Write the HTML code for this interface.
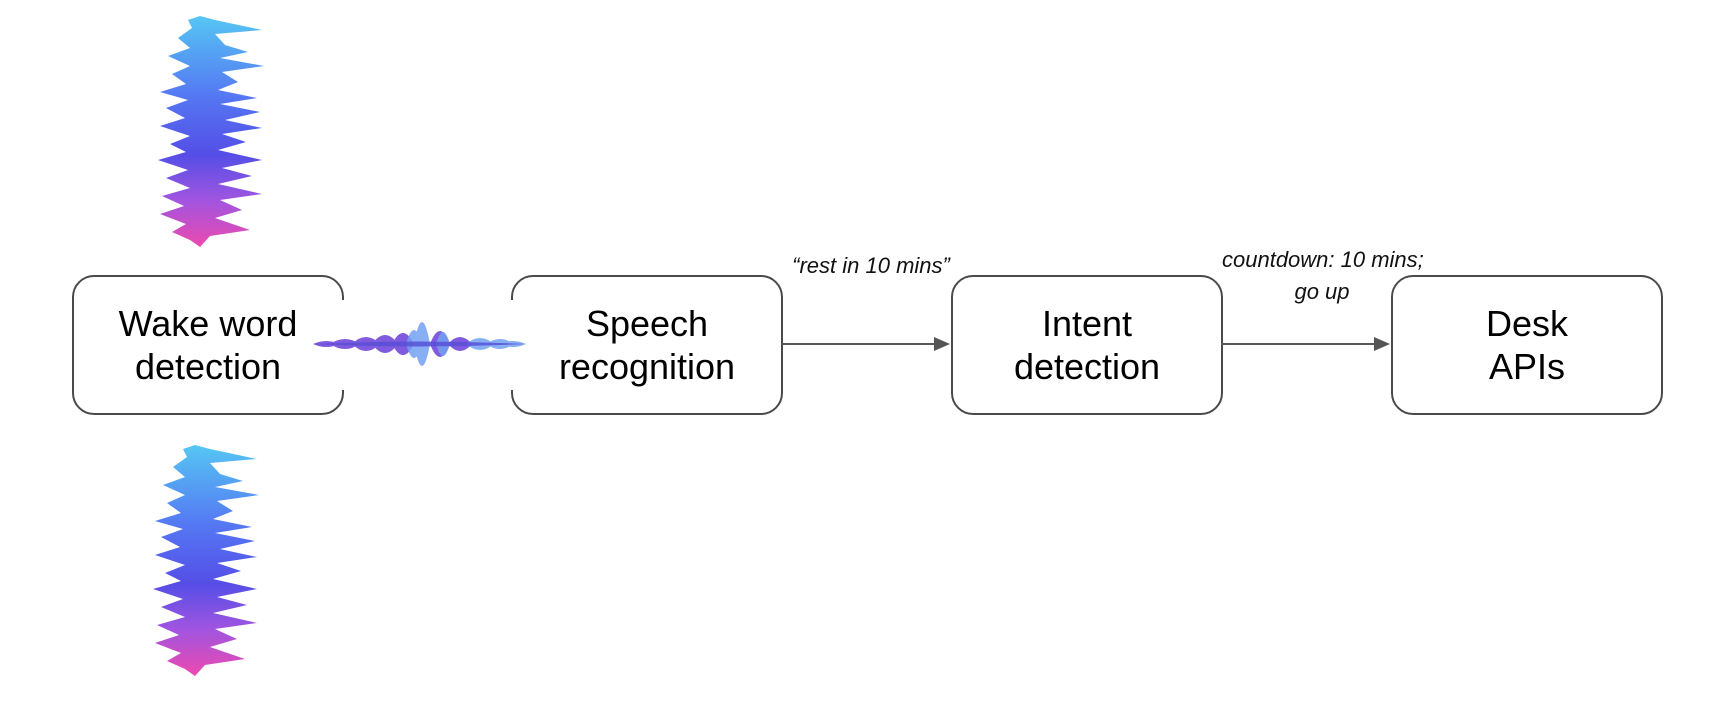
<!DOCTYPE html>
<html><head><meta charset="utf-8"><style>
html,body{margin:0;padding:0;background:#fff;}
body{width:1724px;height:708px;position:relative;overflow:hidden;font-family:"Liberation Sans",Arial,sans-serif;}
.box{position:absolute;top:275px;width:268px;height:136px;border:2px solid #4a4a4a;border-radius:22px;background:#fff;display:flex;align-items:center;justify-content:center;text-align:center;font-size:36px;line-height:43px;color:#000;box-sizing:content-box;}
.lbl{position:absolute;font-style:italic;font-size:22px;color:#111;text-align:center;white-space:nowrap;line-height:32px;}
svg{position:absolute;left:0;top:0;}
</style></head><body>
<div class="box" style="left:72px;">Wake word<br>detection</div>
<div class="box" style="left:511px;">Speech<br>recognition</div>
<div class="box" style="left:951px;">Intent<br>detection</div>
<div class="box" style="left:1391px;">Desk<br>APIs</div>
<svg width="1724" height="708">
<defs>
<linearGradient id="vg" x1="0" y1="0" x2="0" y2="1">
<stop offset="0" stop-color="#2bb8f0"/><stop offset="0.35" stop-color="#2a55f0"/><stop offset="0.6" stop-color="#2a22e0"/><stop offset="0.8" stop-color="#8a2ad8"/><stop offset="1" stop-color="#e81c9a"/>
</linearGradient>
</defs>
<g fill="url(#vg)" opacity="0.8">
<polygon points="200,16 215,20 262,30 215,34 225,45 248,52 220,58 264,66 222,72 238,82 218,90 257,98 220,104 260,112 225,120 262,128 222,134 246,142 218,150 262,160 222,168 252,176 218,184 262,194 220,200 242,210 215,218 250,230 210,236 200,247 190,240 172,232 186,224 160,214 184,206 162,196 190,188 166,178 188,170 158,160 186,152 170,144 190,136 160,126 185,118 166,108 188,100 160,92 186,84 172,74 190,66 168,56 190,48 178,38 192,28 188,20"/>
</g>
<g fill="url(#vg)" opacity="0.8" transform="translate(-5,429)">
<polygon points="200,16 215,20 262,30 215,34 225,45 248,52 220,58 264,66 222,72 238,82 218,90 257,98 220,104 260,112 225,120 262,128 222,134 246,142 218,150 262,160 222,168 252,176 218,184 262,194 220,200 242,210 215,218 250,230 210,236 200,247 190,240 172,232 186,224 160,214 184,206 162,196 190,188 166,178 188,170 158,160 186,152 170,144 190,136 160,126 185,118 166,108 188,100 160,92 186,84 172,74 190,66 168,56 190,48 178,38 192,28 188,20"/>
</g>
<rect x="335" y="300" width="188" height="90" fill="#fff"/>
<g opacity="0.85">
<path fill="#6a3fd8" d="M313,344 Q326,338 340,344 Q326,350 313,344Z M330,344 Q345,334 360,344 Q345,354 330,344Z M352,344 Q366,330 380,344 Q366,358 352,344Z M372,344 Q385,326 398,344 Q385,362 372,344Z M392,344 Q403,322 414,344 Q403,366 392,344Z M430,344 Q440,318 450,344 Q440,370 430,344Z M448,344 Q460,330 472,344 Q460,358 448,344Z"/>
<path fill="#5b8ff0" opacity="0.85" d="M406,344 Q414,316 422,344 Q414,372 406,344Z M414,344 Q422,300 430,344 Q422,388 414,344Z M436,344 Q443,320 450,344 Q443,368 436,344Z M466,344 Q480,332 494,344 Q480,356 466,344Z M486,344 Q500,334 514,344 Q500,354 486,344Z M500,344 Q513,338 526,344 Q513,350 500,344Z"/>
<path fill="#3a2fd0" opacity="0.8" d="M313,344 Q420,339 526,344 Q420,349 313,344Z"/>
</g>
<line x1="782" y1="344" x2="938" y2="344" stroke="#555" stroke-width="2"/>
<polygon points="950,344 934,337 934,351" fill="#555"/>
<line x1="1221" y1="344" x2="1378" y2="344" stroke="#555" stroke-width="2"/>
<polygon points="1390,344 1374,337 1374,351" fill="#555"/>
</svg>
<div class="lbl" style="left:771px;width:200px;top:250px;">“rest in 10 mins”</div>
<div class="lbl" style="left:1222px;width:200px;top:244px;">countdown: 10 mins;</div>
<div class="lbl" style="left:1222px;width:200px;top:276px;">go up</div>
</body></html>
